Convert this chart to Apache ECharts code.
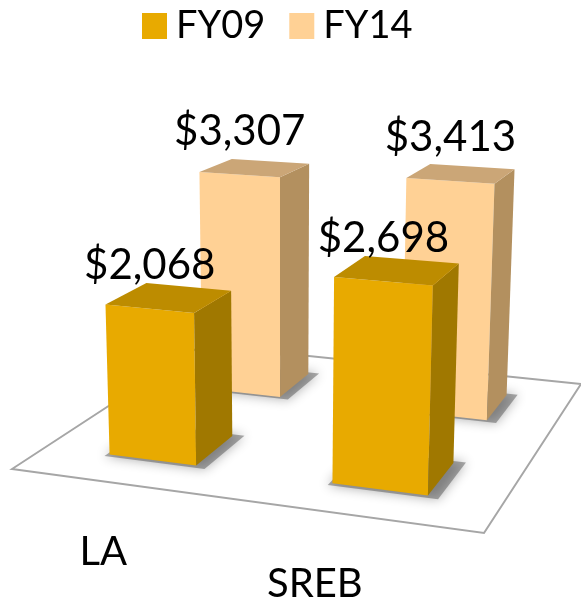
<!DOCTYPE html>
<html><head><meta charset="utf-8">
<script src="https://cdn.jsdelivr.net/npm/echarts@6/dist/echarts.min.js"></script>
<style>html,body{margin:0;padding:0;background:#fff}#c{width:581px;height:604px}</style>
</head><body><div id="c"></div>
<script>
// ---- data ----
const categories = ['LA', 'SREB'];
const seriesNames = ['FY09', 'FY14'];
const fy09 = [2068, 2698];
const fy14 = [3307, 3413];
const valueMax = 4000;

// ---- styling ----
const palettes = [
  { front: '#E8AA00', side: '#A07800', top: '#BD8C00' },
  { front: '#FFD195', side: '#B3905F', top: '#CBA677' }
];
const FONT = 'Lato, "Liberation Sans", sans-serif';

// perspective camera (floor homography + vertical column), fitted to reference view
const HM = [425.02, 244.58, 12, 12.27, -30.77, 469, -0.09706, 0.27022];
const VY = [-3.25, -77.9, -0.0115];
function project(u, v, Y) {
  const [a, b, c, d, e, f, g, h] = HM;
  const den = g * u + h * v + 1 + VY[2] * Y;
  return [(a * u + b * v + c + VY[0] * Y) / den, (d * u + e * v + f + VY[1] * Y) / den];
}

function renderBar(params, api) {
  const cs = params.coordSys;
  const ci = api.value(0), val = api.value(1), si = api.value(2);
  const p = api.coord([ci, val]);
  const band = api.size([1, 0])[0];
  const uc = (p[0] - cs.x) / cs.width;
  const hw = band * 0.4 / 2 / cs.width;
  const Y = (cs.y + cs.height - p[1]) / cs.height * (valueMax / 1000);
  const vc = (si + 0.5) / 2, hd = 0.1;
  const u0 = uc - hw, u1 = uc + hw, v0 = vc - hd, v1 = vc + hd;
  const pal = palettes[si];
  const s = 0.012;
  const shadow = [project(u0 - s * 0.5, v0 - s, 0), project(u1 + 2 * s, v0 - s, 0), project(u1 + 2 * s, v1 + s, 0), project(u0 - s * 0.5, v1 + s, 0)];
  const front = [project(u0, v0, 0), project(u1, v0, 0), project(u1, v0, Y), project(u0, v0, Y)];
  const side = [project(u1, v0, 0), project(u1, v1, 0), project(u1, v1, Y), project(u1, v0, Y)];
  const top = [project(u0, v0, Y), project(u1, v0, Y), project(u1, v1, Y), project(u0, v1, Y)];
  const a = project(u0, v0, Y), b = project(u1, v0, Y);
  const mx = (a[0] + b[0]) / 2, my = (a[1] + b[1]) / 2;
  return {
    type: 'group',
    children: [
      { type: 'polygon', shape: { points: shadow }, style: { fill: 'rgba(70,70,70,0.45)', shadowBlur: 12, shadowColor: 'rgba(0,0,0,0.7)' } },
      { type: 'polygon', shape: { points: front }, style: { fill: pal.front } },
      { type: 'polygon', shape: { points: side }, style: { fill: pal.side } },
      { type: 'polygon', shape: { points: top }, style: { fill: pal.top } },
      { type: 'text', style: { text: '$' + val.toLocaleString('en-US'), x: mx, y: my - 43, fill: '#000', fontSize: 42, fontFamily: FONT, align: 'center', verticalAlign: 'middle' } }
    ]
  };
}

function renderFloor(params, api) {
  const pts = [project(0, 0, 0), project(1, 0, 0), project(1, 1, 0), project(0, 1, 0)];
  return { type: 'polygon', shape: { points: pts }, style: { fill: '#fff', stroke: '#A6A6A6', lineWidth: 2 } };
}

function renderCatLabel(params, api) {
  const cs = params.coordSys;
  const ci = api.value(0);
  const p = api.coord([ci, 0]);
  const uc = (p[0] - cs.x) / cs.width;
  const q = project(uc, 0, 0);
  return { type: 'text', style: { text: categories[ci], x: q[0] + 6, y: q[1] + 68, fill: '#000', fontSize: 40, fontFamily: FONT, align: 'right', verticalAlign: 'middle' } };
}

const chart = echarts.init(document.getElementById('c'), null, { renderer: 'canvas' });
chart.setOption({
  animation: false,
  backgroundColor: '#fff',
  grid: { left: 0, right: 0, top: 0, bottom: 0 },
  xAxis: { type: 'category', data: categories, show: false },
  yAxis: { type: 'value', min: 0, max: valueMax, show: false },
  legend: {
    data: seriesNames, left: 137, top: 2, itemWidth: 25, itemHeight: 26, itemGap: 24, icon: 'rect',
    textStyle: { fontSize: 38, fontFamily: FONT, color: '#000', padding: [0, 0, 0, 4] }
  },
  series: [
    { type: 'custom', name: 'floor', z: 1, silent: true, renderItem: renderFloor, data: [[0, 0]] },
    { type: 'custom', name: seriesNames[1], z: 2, itemStyle: { color: palettes[1].front }, renderItem: renderBar,
      data: fy14.map((v, i) => [i, v, 1]) },
    { type: 'custom', name: seriesNames[0], z: 3, itemStyle: { color: palettes[0].front }, renderItem: renderBar,
      data: fy09.map((v, i) => [i, v, 0]) },
    { type: 'custom', name: 'cats', z: 4, silent: true, renderItem: renderCatLabel, data: categories.map((c, i) => [i, 0]) }
  ]
});
</script></body></html>
